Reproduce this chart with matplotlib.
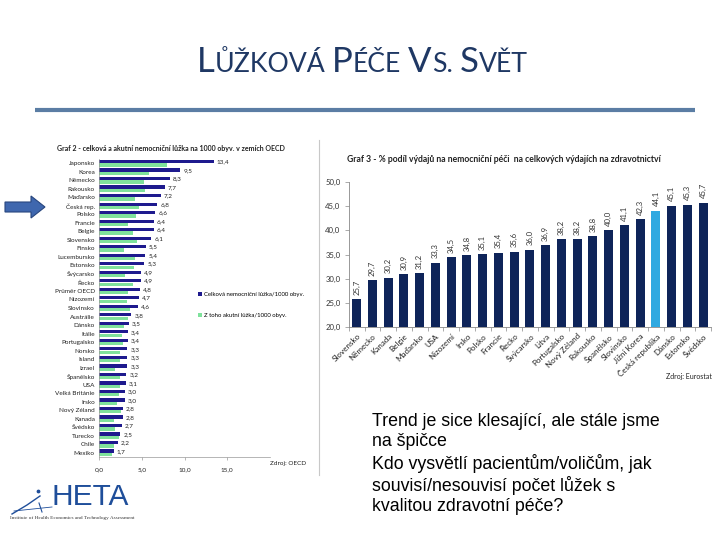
import matplotlib
matplotlib.use("Agg")
import matplotlib.pyplot as plt
from matplotlib.patches import FancyArrow
import numpy as np

plt.rcParams['font.family'] = ['Lato', 'DejaVu Sans']

# Graf 2 - celková a akutní lůžka na 1000 obyv. (OECD)
zeme_luzka = ["Japonsko", "Korea", "Německo", "Rakousko", "Maďarsko", "Česká rep.", "Polsko",
              "Francie", "Belgie", "Slovensko", "Finsko", "Lucembursko", "Estonsko", "Švýcarsko",
              "Řecko", "Průměr OECD", "Nizozemí", "Slovinsko", "Austrálie", "Dánsko", "Itálie",
              "Portugalsko", "Norsko", "Island", "Izrael", "Španělsko", "USA", "Velká Británie",
              "Irsko", "Nový Zéland", "Kanada", "Švédsko", "Turecko", "Chile", "Mexiko"]
luzka_celkem = [13.4, 9.5, 8.3, 7.7, 7.2, 6.8, 6.6, 6.4, 6.4, 6.1, 5.5, 5.4, 5.3, 4.9, 4.9,
                4.8, 4.7, 4.6, 3.8, 3.5, 3.4, 3.4, 3.3, 3.3, 3.3, 3.2, 3.1, 3.0, 3.0, 2.8,
                2.8, 2.7, 2.5, 2.2, 1.7]
luzka_akutni = [8.0, 5.9, 5.3, 5.4, 4.2, 4.7, 4.3, 3.4, 4.0, 4.4, 2.9, 4.2, 4.1, 3.0, 4.0,
                3.4, 3.3, 3.6, 3.4, 2.9, 2.7, 2.8, 2.4, 2.4, 1.9, 2.4, 2.5, 2.3, 2.1, 2.6,
                1.7, 1.9, 2.3, 1.8, 1.5]
x_ticks_luzka = [0, 5, 10, 15]

# Graf 3 - % podíl výdajů na nemocniční péči (Eurostat)
zeme_vydaje = ["Slovensko", "Německo", "Kanada", "Belgie", "Maďarsko", "USA", "Nizozemí",
               "Irsko", "Polsko", "Francie", "Řecko", "Švýcarsko", "Litva", "Portugalsko",
               "Nový Zéland", "Rakousko", "Španělsko", "Slovinsko", "Jižní Korea",
               "Česká republika", "Dánsko", "Estonsko", "Švédsko"]
podil_vydaju = [25.7, 29.7, 30.2, 30.9, 31.2, 33.3, 34.5, 34.8, 35.1, 35.4, 35.6, 36.0, 36.9,
                38.2, 38.2, 38.8, 40.0, 41.1, 42.3, 44.1, 45.1, 45.3, 45.7]
zvyraznit = "Česká republika"
y_ticks_vydaje = [20, 25, 30, 35, 40, 45, 50]


def cz(v):
    return f"{v:.1f}".replace(".", ",")


W, H = 720, 540
fig = plt.figure(figsize=(7.2, 5.4), dpi=100)

# overlay in pixel coordinates for the slide decorations
bg = fig.add_axes([0, 0, 1, 1], zorder=0)
bg.set_xlim(0, W)
bg.set_ylim(H, 0)
bg.axis('off')

# title line
bg.plot([35, 695], [110, 110], color='#5B7DA4', lw=3, solid_capstyle='butt')
# border between pictures
bg.plot([318.5, 318.5], [140, 475], color='#C8C8C8', lw=0.8)

# ---- left chart ----
dark = '#1E1A8E'
green = '#7FE29C'
axl = fig.add_axes([99 / W, 1 - 457 / H, (270 - 99) / W, (457 - 159) / H], zorder=2)
pos = np.arange(len(zeme_luzka))
axl.barh(pos - 0.2, luzka_celkem, height=0.38, color=dark,
         label="Celková nemocniční lůžka/1000 obyv.")
axl.barh(pos + 0.2, luzka_akutni, height=0.38, color=green,
         label="Z toho akutní lůžka/1000 obyv.")
for p, v in zip(pos, luzka_celkem):
    axl.text(v + 0.35, p - 0.15, cz(v), fontsize=4.6, va='center', ha='left', color='#222222')
axl.set_ylim(len(zeme_luzka) - 0.5, -0.5)
axl.set_xlim(0, 20)
axl.set_yticks(pos)
axl.set_yticklabels(zeme_luzka, fontsize=4.6, color='#222222')
axl.set_xticks(x_ticks_luzka)
axl.set_xticklabels([cz(t) for t in x_ticks_luzka], fontsize=4.6, color='#222222')
axl.tick_params(axis='y', length=0, pad=3)
axl.tick_params(axis='x', length=2, width=0.5, color='#999999', pad=5)
for s in ['top', 'right']:
    axl.spines[s].set_visible(False)
axl.spines['left'].set_color('#999999')
axl.spines['left'].set_linewidth(0.5)
axl.spines['bottom'].set_color('#999999')
axl.spines['bottom'].set_linewidth(0.5)
axl.patch.set_alpha(0)
axl.legend(loc='upper left', bbox_to_anchor=(196 / W, 1 - 290 / H), bbox_transform=fig.transFigure,
           frameon=False, fontsize=4.3, handlelength=0.6, handleheight=0.6, labelspacing=2.6,
           handletextpad=0.4, borderaxespad=0)
fig.text(57 / W, 1 - 148 / H,
         "Graf 2 - celková a akutní nemocniční lůžka na 1000 obyv. v zemích OECD",
         fontsize=5, fontweight='bold', va='center', ha='left', color='#222222')
fig.text(270 / W, 1 - 463 / H, "Zdroj: OECD", fontsize=4.6, va='center', ha='left',
         color='#222222')

# ---- right chart ----
navy = '#0E2459'
light = '#2FA9E1'
axr = fig.add_axes([348.8 / W, 1 - 327 / H, (711 - 348.8) / W, (327 - 182) / H], zorder=2)
xr = np.arange(len(zeme_vydaje))
colors = [light if z == zvyraznit else navy for z in zeme_vydaje]
axr.bar(xr, [v - 20 for v in podil_vydaju], bottom=20, width=0.58, color=colors)
for x, v in zip(xr, podil_vydaju):
    axr.text(x, v + 0.9, cz(v), rotation=90, fontsize=5.6, ha='center', va='bottom',
             color='#333333')
axr.set_ylim(20, 50)
axr.set_xlim(-0.5, len(zeme_vydaje) - 0.5)
axr.set_yticks(y_ticks_vydaje)
axr.set_yticklabels([cz(t) for t in y_ticks_vydaje], fontsize=5.6, color='#333333')
axr.set_xticks(xr)
axr.set_xticklabels(zeme_vydaje, rotation=45, ha='right', rotation_mode='anchor',
                    fontsize=5.8, color='#222222')
axr.set_xticks(np.arange(-0.5, len(zeme_vydaje), 1), minor=True)
axr.tick_params(axis='x', which='major', length=0, pad=4)
axr.tick_params(axis='x', which='minor', length=3, width=0.5, color='#888888')
axr.tick_params(axis='y', length=3, width=0.5, color='#888888', pad=3)
for s in ['top', 'right']:
    axr.spines[s].set_visible(False)
axr.spines['left'].set_color('#888888')
axr.spines['left'].set_linewidth(0.6)
axr.spines['bottom'].set_color('#888888')
axr.spines['bottom'].set_linewidth(0.6)
axr.patch.set_alpha(0)
fig.text(347 / W, 1 - 160 / H,
         "Graf 3 - % podíl výdajů na nemocniční péči  na celkových výdajích na zdravotnictví",
         fontsize=6.2, fontweight='bold', va='center', ha='left', color='#222222')
fig.text(712 / W, 1 - 377 / H, "Zdroj: Eurostat", fontsize=5, va='center', ha='right',
         color='#222222')

# arrow pointing at Česká rep.
bg.add_patch(FancyArrow(5, 207, 40, 0, width=10, head_width=22, head_length=14,
                        length_includes_head=True, facecolor='#3F67AE', edgecolor='#28467E',
                        lw=0.8, zorder=3))

# slide title in small caps
parts = [("L", 25), ("ŮŽKOVÁ", 19.2), (" ", 0), ("P", 25), ("ÉČE", 19.2), (" ", 0),
         ("V", 25), ("S.", 19.2), (" ", 0), ("S", 25), ("VĚT", 19.2)]
renderer = fig.canvas.get_renderer()
items = []
total = 0
for txt, size in parts:
    if txt == " ":
        items.append((None, 7))
        total += 7
        continue
    t = fig.text(0, 1 - 72 / H, txt, fontsize=size, color='#1F3864', va='baseline', ha='left',
                 family=['Lato', 'DejaVu Sans'])
    w = t.get_window_extent(renderer).width
    items.append((t, w))
    total += w
x = 362 - total / 2
for t, w in items:
    if t is not None:
        t.set_x(x / W)
    x += w

# text block
fig.text(372 / W, 1 - 413 / H,
         "Trend je sice klesající, ale stále jsme\nna špičce\n"
         "Kdo vysvětlí pacientům/voličům, jak\nsouvisí/nesouvisí počet lůžek s\n"
         "kvalitou zdravotní péče?",
         fontsize=12.8, family=['Liberation Sans', 'DejaVu Sans'], va='top', ha='left',
         linespacing=1.24, color='#000000')

# HETA logo
fig.text(51 / W, 1 - 505 / H, "HETA", fontsize=21.5, color='#1F4E9A', va='baseline', ha='left',
         family=['Liberation Sans Narrow', 'Liberation Sans', 'DejaVu Sans'])
bg.plot([12, 27, 40], [514, 505, 496], color='#1F4E9A', lw=1.0)
bg.plot([14, 52], [511, 507], color='#1F4E9A', lw=0.6)
bg.plot([39, 42], [503, 512], color='#1F4E9A', lw=0.8)
bg.scatter([38], [491], s=3, color='#1F4E9A')
fig.text(10 / W, 1 - 518 / H, "Institute of Health Economics and Technology Assessment",
         fontsize=3.8, color='#333333', va='center', ha='left',
         family=['Liberation Serif', 'DejaVu Serif'])

fig.savefig("out.png", dpi=100)
